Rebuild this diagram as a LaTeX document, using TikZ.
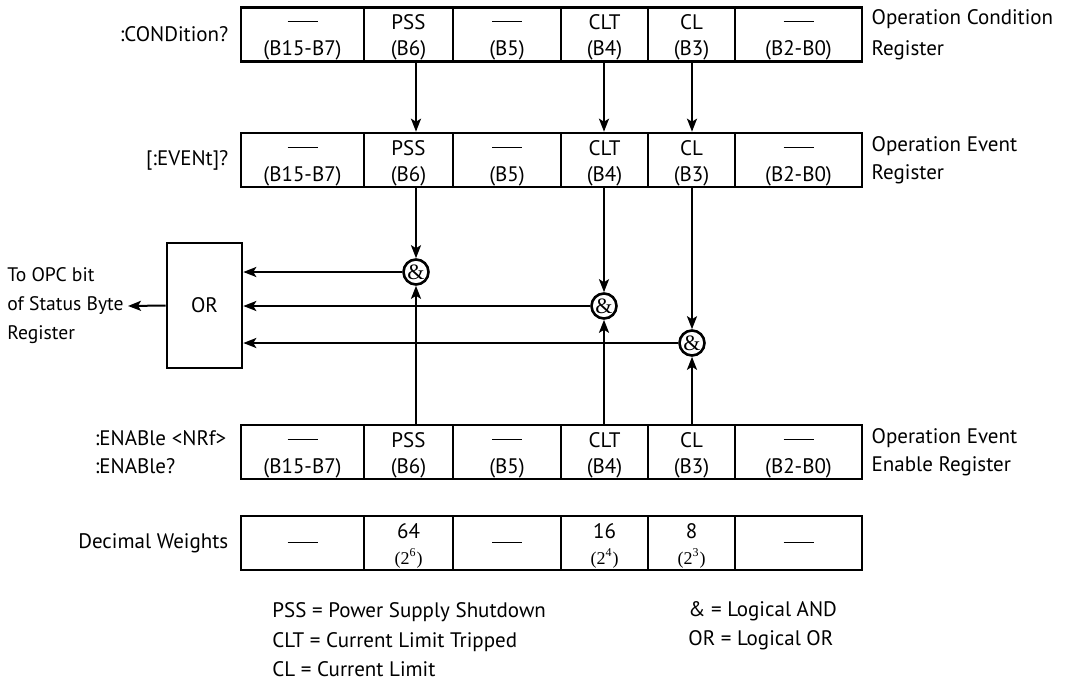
\documentclass[tikz,border=0pt]{standalone}
\usepackage{fontspec}
\setmainfont{PT Sans}
\newfontfamily\andfont{Liberation Serif}
\usetikzlibrary{arrows.meta}
\usetikzlibrary{calc}

% empty bit marker, struts and powers of two
\newcommand{\nobit}{\rule[3.6pt]{15pt}{0.6pt}}
\newcommand{\topstrut}{\rule{0pt}{10.5pt}}
\newcommand{\pw}[1]{{\andfont\small(2\textsuperscript{#1})}}

\begin{document}
\begin{tikzpicture}[x=0.5pt,y=-0.5pt,
    cell/.style={draw,line width=1.3pt,inner sep=0pt,minimum height=27pt,align=center,font=\fontsize{10.5}{13}\selectfont},
    gate/.style={circle,draw,line width=1.3pt,inner sep=0pt,minimum size=12.5pt,font=\andfont\fontsize{11}{11}\selectfont},
    sig/.style={line width=1pt,-{Stealth[length=6.5pt,width=5pt,inset=1.5pt]}},
    lbl/.style={inner sep=0pt,font=\fontsize{10.5}{14}\selectfont}
]
\useasboundingbox (0,0) rectangle (1077,681);

% Three bit registers
\foreach \row/\yc in {cond/34.5,ev/160,en/452}{
  \foreach \i/\xc/\w/\txt in {1/302.5/123/{\nobit\\(B15-B7)},2/408.5/89/{PSS\\(B6)},
      3/507/108/{\nobit\\(B5)},4/604.5/87/{CLT\\(B4)},5/691.5/87/{CL\\(B3)},6/798.5/127/{\nobit\\(B2-B0)}}
    \node[cell,minimum width=\w*0.5pt] (\row\i) at (\xc,\yc) {\topstrut\txt};
}

% Decimal weights
\foreach \i/\xc/\w/\txt in {1/302.5/123/{\vphantom{P}\nobit},2/408.5/89/{\topstrut 64\\\pw{6}},
    3/507/108/{\vphantom{P}\nobit},4/604.5/87/{\topstrut 16\\\pw{4}},5/691.5/87/{\topstrut 8\\\pw{3}},6/798.5/127/{\vphantom{P}\nobit}}
  \node[cell,minimum width=\w*0.5pt] (wt\i) at (\xc,543) {\txt};

% Register commands and names
\node[lbl,anchor=east] (condcmd) at ([xshift=-5.5pt]cond1.west) {:CONDition?};
\node[lbl,anchor=east] (evcmd) at ([xshift=-5.5pt]ev1.west) {[:EVENt]?};
\node[lbl,anchor=east,align=left] (encmd) at ([xshift=-6.5pt]en1.west) {:ENABle <NRf>\\:ENABle?};
\node[lbl,anchor=east] (wtlbl) at ([xshift=-5.5pt]wt1.west) {Decimal Weights};
\node[lbl,anchor=west,align=left,font=\fontsize{10.5}{15.5}\selectfont] (condname) at ([xshift=4pt]cond6.east) {Operation Condition\\Register};
\node[lbl,anchor=west,align=left] (evname) at ([xshift=4pt]ev6.east) {Operation Event\\Register};
\node[lbl,anchor=west,align=left] (enname) at ([xshift=4pt]en6.east) {Operation Event\\Enable Register};

% AND gates and OR box
\node[gate] (and1) at (416,272) {\&};
\node[gate] (and2) at (604,306) {\&};
\node[gate] (and3) at (692,343) {\&};
\node[draw,line width=1.3pt,minimum width=37.5pt,minimum height=62.5pt,font=\fontsize{10.5}{13}\selectfont] (or) at (204.5,305.5) {OR};
\node[lbl,anchor=east,align=left,inner xsep=2pt,font=\fontsize{9.8}{14.5}\selectfont] (opc) at (128,306) {To OPC bit\\of Status Byte\\Register};

% condition -> event
\draw[sig] (and1 |- cond2.south) -- (and1 |- ev2.north);
\draw[sig] (and2 |- cond4.south) -- (and2 |- ev4.north);
\draw[sig] (and3 |- cond5.south) -- (and3 |- ev5.north);

% event -> gates
\draw[sig] (and1 |- ev2.south) -- (and1.north);
\draw[sig] (and2 |- ev4.south) -- (and2.north);
\draw[sig] (and3 |- ev5.south) -- (and3.north);

% enable -> gates
\draw[sig] (and1 |- en2.north) -- (and1.south);
\draw[sig] (and2 |- en4.north) -- (and2.south);
\draw[sig] (and3 |- en5.north) -- (and3.south);

% gates -> OR -> status byte
\draw[sig] (and1.west) -- (and1.west -| or.east);
\draw[sig] (and2.west) -- (and2.west -| or.east);
\draw[sig] (and3.west) -- (and3.west -| or.east);
\draw[sig] (or.west) -- (opc.east);

% Legend
\node[lbl,anchor=west,align=left,font=\fontsize{10.5}{14.75}\selectfont] (legend) at (272,640) {PSS = Power Supply Shutdown\\CLT = Current Limit Tripped\\CL = Current Limit};
\node[lbl,anchor=west,align=left,font=\fontsize{10.5}{14.75}\selectfont] (legend2) at (688,625.5) {\& = Logical AND\\OR = Logical OR};

\end{tikzpicture}
\end{document}
